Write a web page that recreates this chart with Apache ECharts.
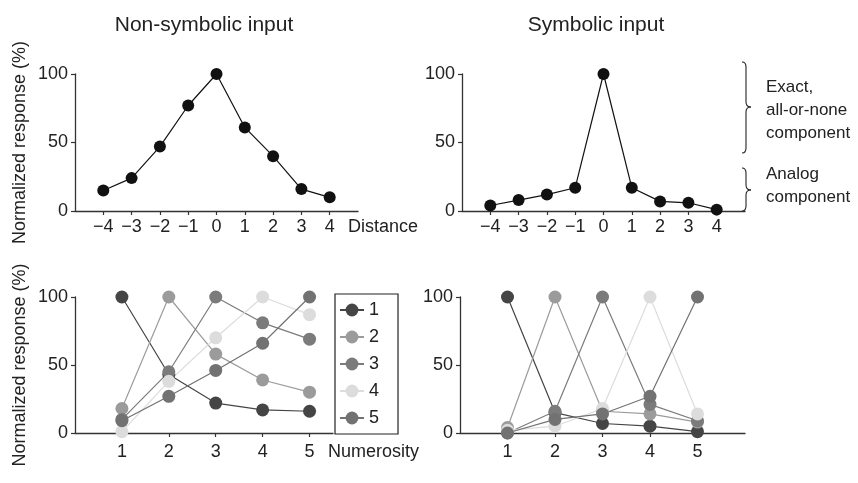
<!DOCTYPE html>
<html><head><meta charset="utf-8">
<script src="https://cdn.jsdelivr.net/npm/echarts@6/dist/echarts.min.js"></script>
<style>html,body{margin:0;padding:0;background:#fff}#c{width:858px;height:483px}</style>
</head><body><div id="c"></div>
<script>
// ---------- data ----------
const distances = [-4, -3, -2, -1, 0, 1, 2, 3, 4];
const nonSymbolicDistance = [15, 24, 47, 77, 100, 61, 40, 16, 10];
const symbolicDistance = [4, 8, 12, 17, 100, 17, 7, 6, 1];

const numerosities = [1, 2, 3, 4, 5];
const seriesNames = ['1', '2', '3', '4', '5'];
const nonSym1 = [100, 43, 22, 17, 16];
const nonSym2 = [18, 100, 58, 39, 30];
const nonSym3 = [10, 45, 100, 81, 69];
const nonSym4 = [1, 38, 70, 100, 87];
const nonSym5 = [9, 27, 46, 66, 100];
const sym1 = [100, 15, 7, 5, 1];
const sym2 = [4, 100, 16, 14, 8];
const sym3 = [0, 16, 100, 21, 9];
const sym4 = [2, 5, 18, 100, 14];
const sym5 = [0, 10, 14, 27, 100];
const yTicks = [0, 50, 100];

// ---------- styles ----------
const FONT = 'Liberation Sans, Arial, Helvetica, sans-serif';
const TXT = '#222';
const AX = '#333';
const tuneColors = ['#454545', '#9b9b9b', '#7b7b7b', '#dcdcdc', '#727272'];
const nonSymTuning = [nonSym1, nonSym2, nonSym3, nonSym4, nonSym5];
const symTuning = [sym1, sym2, sym3, sym4, sym5];

const fmt = v => v < 0 ? '\u2212' + (-v) : String(v);

function xAx(gi, min, max, ticks, name, nameGap, margin, namePad) {
  return {
    type: 'value', gridIndex: gi, min: min, max: max,
    name: name, nameLocation: 'end', nameGap: nameGap,
    nameTextStyle: {fontFamily: FONT, fontSize: 18, color: TXT, align: 'left', verticalAlign: 'top', padding: [namePad, 0, 0, 0]},
    axisLine: {onZero: false, lineStyle: {color: AX, width: 1.3}},
    axisTick: {show: true, length: 4, customValues: ticks, lineStyle: {color: AX, width: 1.2}},
    axisLabel: {customValues: ticks, margin: margin, fontFamily: FONT, fontSize: 18, color: TXT, formatter: fmt},
    splitLine: {show: false}
  };
}
function yAx(gi, name) {
  return {
    type: 'value', gridIndex: gi, min: 0, max: 100,
    name: name || '', nameLocation: 'middle', nameGap: 46, nameRotate: 90,
    nameTextStyle: {fontFamily: FONT, fontSize: 18, color: TXT},
    axisLine: {show: true, onZero: false, lineStyle: {color: AX, width: 1.3}},
    axisTick: {show: true, length: 4, customValues: yTicks, lineStyle: {color: AX, width: 1.2}},
    axisLabel: {customValues: yTicks, margin: 7, fontFamily: FONT, fontSize: 18, color: TXT},
    splitLine: {show: false}
  };
}

const series = [];
series.push({
  type: 'line', xAxisIndex: 0, yAxisIndex: 0, name: 'nonsym',
  data: distances.map((d, i) => [d, nonSymbolicDistance[i]]),
  symbol: 'circle', symbolSize: 12, clip: false,
  itemStyle: {color: '#111'}, lineStyle: {color: '#111', width: 1.2}
});
series.push({
  type: 'line', xAxisIndex: 1, yAxisIndex: 1, name: 'sym',
  data: distances.map((d, i) => [d, symbolicDistance[i]]),
  symbol: 'circle', symbolSize: 12, clip: false,
  itemStyle: {color: '#111'}, lineStyle: {color: '#111', width: 1.2}
});
nonSymTuning.forEach((arr, k) => series.push({
  type: 'line', xAxisIndex: 2, yAxisIndex: 2, name: seriesNames[k],
  data: numerosities.map((n, i) => [n, arr[i]]),
  symbol: 'circle', symbolSize: 13, clip: false,
  itemStyle: {color: tuneColors[k]}, lineStyle: {color: tuneColors[k], width: 1.2}
}));
symTuning.forEach((arr, k) => series.push({
  type: 'line', xAxisIndex: 3, yAxisIndex: 3, name: seriesNames[k],
  data: numerosities.map((n, i) => [n, arr[i]]),
  symbol: 'circle', symbolSize: 13, clip: false,
  itemStyle: {color: tuneColors[k]}, lineStyle: {color: tuneColors[k], width: 1.2}
}));

function brace(x0, xm, xt, yTop, yMid, yBot) {
  const st = {stroke: '#222', lineWidth: 1.1, fill: null};
  const r = 5;
  return [
    {type: 'bezierCurve', shape: {x1: x0, y1: yTop, x2: xm, y2: yTop + r, cpx1: xm, cpy1: yTop}, style: st},
    {type: 'line', shape: {x1: xm, y1: yTop + r, x2: xm, y2: yMid - r}, style: st},
    {type: 'bezierCurve', shape: {x1: xm, y1: yMid - r, x2: xt, y2: yMid, cpx1: xm, cpy1: yMid}, style: st},
    {type: 'bezierCurve', shape: {x1: xt, y1: yMid, x2: xm, y2: yMid + r, cpx1: xm, cpy1: yMid}, style: st},
    {type: 'line', shape: {x1: xm, y1: yMid + r, x2: xm, y2: yBot - r}, style: st},
    {type: 'bezierCurve', shape: {x1: xm, y1: yBot - r, x2: x0, y2: yBot, cpx1: xm, cpy1: yBot}, style: st}
  ];
}
const txt = (s, x, y) => ({type: 'text', x: x, y: y, style: {text: s, fontFamily: FONT, fontSize: 17, fill: TXT, verticalAlign: 'middle'}});

const option = {
  animation: false,
  backgroundColor: '#fff',
  textStyle: {fontFamily: FONT},
  title: [
    {text: 'Non-symbolic input', left: 199, top: 10, textAlign: 'center', textStyle: {fontFamily: FONT, fontSize: 21, fontWeight: 'normal', color: TXT}},
    {text: 'Symbolic input', left: 591, top: 10, textAlign: 'center', textStyle: {fontFamily: FONT, fontSize: 21, fontWeight: 'normal', color: TXT}}
  ],
  grid: [
    {left: 75, top: 74, width: 283, height: 137},
    {left: 462, top: 74, width: 283, height: 137},
    {left: 75, top: 297, width: 258, height: 136},
    {left: 460, top: 297, width: 285, height: 136}
  ],
  xAxis: [
    xAx(0, -5, 5, distances, 'Distance', -10, 7, 7),
    xAx(1, -5, 5, distances, '', 0, 7, 0),
    xAx(2, 0, 5.5, numerosities, 'Numerosity', -5, 10, 10),
    xAx(3, 0, 6, numerosities, '', 0, 10, 0)
  ],
  yAxis: [
    yAx(0, 'Normalized response (%)'),
    yAx(1),
    yAx(2, 'Normalized response (%)'),
    yAx(3)
  ],
  legend: {
    data: seriesNames, orient: 'vertical', left: 335, top: 294,
    itemWidth: 24, itemHeight: 16, itemGap: 9,
    padding: [7, 19, 7, 4],
    borderColor: '#222', borderWidth: 1.2,
    selectedMode: false,
    textStyle: {fontFamily: FONT, fontSize: 18, color: TXT}
  },
  graphic: [].concat(
    brace(742, 746, 751, 62, 107, 153),
    brace(742, 746, 751, 168, 190, 211),
    [txt('Exact,', 766, 87), txt('all-or-none', 766, 110), txt('component', 766, 133),
     txt('Analog', 766, 174), txt('component', 766, 197)]
  ),
  series: series
};
echarts.init(document.getElementById('c'), null, {renderer: 'canvas'}).setOption(option);
</script></body></html>
